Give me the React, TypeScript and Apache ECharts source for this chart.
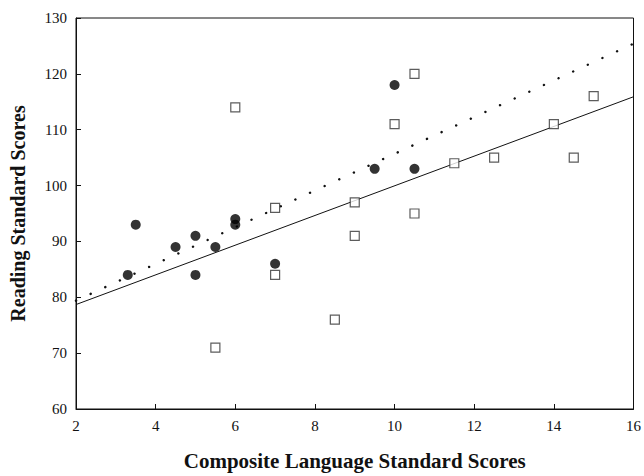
import React, { useEffect, useRef } from "react";
import * as echarts from "echarts";

const xTicks = [2, 4, 6, 8, 10, 12, 14, 16];
const yTicks = [60, 70, 80, 90, 100, 110, 120, 130];

const squareX = [6, 7, 7, 5.5, 8.5, 10.5, 10, 15, 14, 11.5, 12.5, 14.5, 9, 10.5, 9];
const squareY = [114, 96, 84, 71, 76, 120, 111, 116, 111, 104, 105, 105, 97, 95, 91];

const circleX = [3.3, 3.5, 4.5, 5, 5, 5.5, 6, 6, 7, 9.5, 10, 10.5];
const circleY = [84, 93, 89, 91, 84, 89, 94, 93, 86, 103, 118, 103];

const solidLineX = [2, 16];
const solidLineY = [78.7, 115.9];
const dottedLineX = [2, 16];
const dottedLineY = [79.4, 125.4];

const zip = (xs: number[], ys: number[]) => xs.map((x, i) => [x, ys[i]]);

export default function App() {
  const ref = useRef<HTMLDivElement>(null);
  useEffect(() => {
    if (!ref.current) return;
    const chart = echarts.init(ref.current, null, { renderer: "svg" });
    const font = "'Liberation Serif', 'Times New Roman', serif";
    chart.setOption({
      animation: false,
      backgroundColor: "#ffffff",
      grid: {
        left: 75,
        right: 8,
        top: 18,
        bottom: 64,
        show: true,
        borderColor: "#111",
        borderWidth: 1,
        backgroundColor: "transparent",
      },
      xAxis: {
        type: "value",
        min: xTicks[0],
        max: xTicks[xTicks.length - 1],
        interval: 2,
        name: "Composite Language Standard Scores",
        nameLocation: "middle",
        nameGap: 41,
        nameTextStyle: { fontFamily: font, fontWeight: "bold", fontSize: 21, color: "#111" },
        axisLine: { show: true, lineStyle: { color: "#111", width: 1 } },
        axisTick: { show: true, inside: true, length: 5, lineStyle: { color: "#111" } },
        axisLabel: { fontFamily: font, fontSize: 15, color: "#111", margin: 9 },
        splitLine: { show: false },
      },
      yAxis: {
        type: "value",
        min: yTicks[0],
        max: yTicks[yTicks.length - 1],
        interval: 10,
        name: "Reading Standard Scores",
        nameLocation: "middle",
        nameGap: 48,
        nameRotate: 90,
        nameTextStyle: { fontFamily: font, fontWeight: "bold", fontSize: 20, color: "#111" },
        axisLine: { show: true, lineStyle: { color: "#111", width: 1 } },
        axisTick: { show: true, inside: true, length: 5, lineStyle: { color: "#111" } },
        axisLabel: { fontFamily: font, fontSize: 15, color: "#111", margin: 9 },
        splitLine: { show: false },
      },
      series: [
        {
          type: "line",
          data: zip(solidLineX, solidLineY),
          symbol: "none",
          lineStyle: { color: "#111", width: 1 },
          silent: true,
          z: 1,
        },
        {
          type: "line",
          data: zip(dottedLineX, dottedLineY),
          symbol: "none",
          lineStyle: { color: "#111", width: 2.4, type: [0.1, 16], cap: "round" },
          silent: true,
          z: 1,
        },
        {
          type: "scatter",
          data: zip(squareX, squareY),
          symbol: "rect",
          symbolSize: 9,
          itemStyle: { color: "#ffffff", borderColor: "#333", borderWidth: 1.2 },
          z: 3,
        },
        {
          type: "scatter",
          data: zip(circleX, circleY),
          symbol: "circle",
          symbolSize: 10,
          itemStyle: { color: "#000000" },
          z: 4,
        },
      ],
    });
    return () => chart.dispose();
  }, []);
  return (
    <div
      ref={ref}
      style={{ position: "fixed", left: 0, top: 0, width: 644, height: 476 }}
    />
  );
}
